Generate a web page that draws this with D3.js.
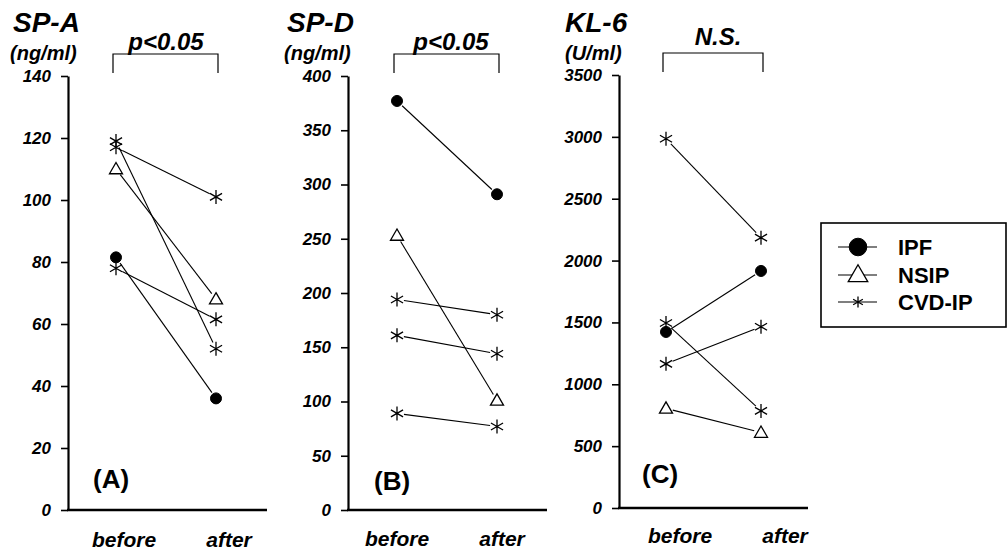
<!DOCTYPE html>
<html>
<head>
<meta charset="utf-8">
<script src="https://cdn.jsdelivr.net/npm/d3@7"></script>
<style>
  html, body { margin: 0; padding: 0; background: #fff; }
  svg { display: block; font-family: "Liberation Sans", Arial, sans-serif; }
</style>
</head>
<body>
<svg id="chart" width="1007" height="552"></svg>
<script>
// ---- data ----
const timepoints = ["before", "after"];
const groups = ["IPF", "NSIP", "CVD-IP"];

// SP-A (ng/ml), one entry per patient
const spaGroup  = ["IPF", "NSIP", "CVD-IP", "CVD-IP", "CVD-IP"];
const spaBefore = [81.5, 110, 119, 117, 78];
const spaAfter  = [36, 68, 52, 101, 61.5];
const spaTicks  = [0, 20, 40, 60, 80, 100, 120, 140];

// SP-D (ng/ml)
const spdGroup  = ["IPF", "NSIP", "CVD-IP", "CVD-IP", "CVD-IP"];
const spdBefore = [377, 253, 194, 161, 89];
const spdAfter  = [291, 101, 180, 144, 77];
const spdTicks  = [0, 50, 100, 150, 200, 250, 300, 350, 400];

// KL-6 (U/ml)
const klGroup  = ["IPF", "NSIP", "CVD-IP", "CVD-IP", "CVD-IP"];
const klBefore = [1423, 805, 2985, 1495, 1165];
const klAfter  = [1916, 610, 2185, 785, 1465];
const klTicks  = [0, 500, 1000, 1500, 2000, 2500, 3000, 3500];

const panelTitles = ["SP-A", "SP-D", "KL-6"];
const panelUnits  = ["(ng/ml)", "(ng/ml)", "(U/ml)"];
const panelTags   = ["(A)", "(B)", "(C)"];
const panelStats  = ["p<0.05", "p<0.05", "N.S."];

// ---- layout ----
const panels = [
  { group: spaGroup, before: spaBefore, after: spaAfter, ticks: spaTicks,
    axisX: 68, y0: 510, yTop: 76, xB: 116, xA: 216, xEnd: 267,
    lblB: 124, lblA: 229, lblY: 547, titleX: 13, unitX: 10,
    statX: 166, statY: 50, bracketY: 54, tagX: 93, tagY: 488 },
  { group: spdGroup, before: spdBefore, after: spdAfter, ticks: spdTicks,
    axisX: 348, y0: 510, yTop: 76, xB: 397, xA: 497, xEnd: 547,
    lblB: 397, lblA: 502, lblY: 546, titleX: 287, unitX: 284,
    statX: 451, statY: 50, bracketY: 54, tagX: 374, tagY: 490 },
  { group: klGroup, before: klBefore, after: klAfter, ticks: klTicks,
    axisX: 619, y0: 508, yTop: 75, xB: 666, xA: 761, xEnd: 808,
    lblB: 680, lblA: 785, lblY: 543, titleX: 565, unitX: 565,
    statX: 718, statY: 45, bracketY: 53, tagX: 642, tagY: 483 }
];

const FONT = '"Liberation Sans", Arial, sans-serif';
const svg = d3.select("#chart");

// marker shapes
function starPath(r) {
  let d = "";
  for (let k = 0; k < 3; k++) {
    const a = Math.PI / 2 + k * Math.PI / 3;
    const dx = r * Math.cos(a), dy = r * Math.sin(a);
    d += `M${-dx},${-dy}L${dx},${dy}`;
  }
  return d;
}
function trianglePath(s) {
  const h = s * Math.sqrt(3) / 2;
  return `M0,${-h * 2 / 3}L${s / 2},${h / 3}L${-s / 2},${h / 3}Z`;
}
function drawMarker(g, type, x, y, scale) {
  if (type === "IPF") {
    g.append("circle").attr("cx", x).attr("cy", y).attr("r", 5.5 * scale)
      .attr("fill", "#000").attr("stroke", "#000");
  } else if (type === "NSIP") {
    g.append("path").attr("d", trianglePath(13 * scale))
      .attr("transform", `translate(${x},${y + 1})`)
      .attr("fill", "#fff").attr("stroke", "#000").attr("stroke-width", 1.3);
  } else {
    g.append("path").attr("d", starPath(7 * scale))
      .attr("transform", `translate(${x},${y})`)
      .attr("fill", "none").attr("stroke", "#000").attr("stroke-width", 1.3);
  }
}

panels.forEach((p, i) => {
  const g = svg.append("g");
  const maxTick = p.ticks[p.ticks.length - 1];
  const y = d3.scaleLinear().domain([0, maxTick]).range([p.y0, p.yTop]);
  const x = d3.scalePoint().domain(timepoints).range([p.xB, p.xA]);

  // y axis
  const ax = g.append("g").attr("transform", `translate(${p.axisX},0)`)
    .call(d3.axisLeft(y).tickValues(p.ticks).tickFormat(d3.format("d"))
      .tickSize(7).tickSizeOuter(0).tickPadding(10));
  ax.attr("font-size", 17).attr("font-family", FONT);
  ax.select(".domain").attr("stroke", "#000").attr("stroke-width", 2.2);
  ax.selectAll(".tick line").attr("stroke", "#000").attr("stroke-width", 1.6);
  ax.selectAll(".tick text").attr("fill", "#000")
    .attr("font-weight", "bold").attr("font-style", "italic");

  // x axis baseline
  g.append("line").attr("x1", p.axisX - 1).attr("x2", p.xEnd)
    .attr("y1", y(0)).attr("y2", y(0)).attr("stroke", "#000").attr("stroke-width", 2.4);

  // category labels
  timepoints.forEach((t, j) => {
    g.append("text").attr("x", j === 0 ? p.lblB : p.lblA).attr("y", p.lblY)
      .attr("text-anchor", "middle")
      .style("font-size", "21px").style("font-weight", "bold").style("font-style", "italic")
      .text(t);
  });

  // titles
  g.append("text").attr("x", p.titleX).attr("y", 32)
    .style("font-size", "28px").style("font-weight", "bold").style("font-style", "italic")
    .text(panelTitles[i]);
  g.append("text").attr("x", p.unitX).attr("y", 60)
    .style("font-size", "20px").style("font-weight", "bold").style("font-style", "italic")
    .text(panelUnits[i]);

  // significance bracket
  g.append("path")
    .attr("d", `M${p.xB - 3},${p.bracketY + 19}V${p.bracketY}H${p.xA + 2}V${p.bracketY + 19}`)
    .attr("fill", "none").attr("stroke", "#000").attr("stroke-width", 1.2);
  g.append("text").attr("x", p.statX).attr("y", p.statY).attr("text-anchor", "middle")
    .style("font-size", "24px").style("font-weight", "bold").style("font-style", "italic")
    .text(panelStats[i]);

  // panel tag
  g.append("text").attr("x", p.tagX).attr("y", p.tagY)
    .style("font-size", "26px").style("font-weight", "bold")
    .text(panelTags[i]);

  // connecting lines, trimmed short of the markers
  const gap = 7;
  p.before.forEach((b, k) => {
    const x1 = x("before"), y1 = y(b), x2 = x("after"), y2 = y(p.after[k]);
    const len = Math.hypot(x2 - x1, y2 - y1);
    const ux = (x2 - x1) / len, uy = (y2 - y1) / len;
    g.append("line")
      .attr("x1", x1 + ux * gap).attr("y1", y1 + uy * gap)
      .attr("x2", x2 - ux * gap).attr("y2", y2 - uy * gap)
      .attr("stroke", "#000").attr("stroke-width", 1.1);
  });
  // markers
  p.before.forEach((b, k) => {
    drawMarker(g, p.group[k], x("before"), y(b), 1);
    drawMarker(g, p.group[k], x("after"), y(p.after[k]), 1);
  });
});

// legend
const lg = svg.append("g");
lg.append("rect").attr("x", 821).attr("y", 223).attr("width", 185).attr("height", 104)
  .attr("fill", "#fff").attr("stroke", "#000").attr("stroke-width", 1.6);
const legendY = [247, 275, 302];
const legendScale = [1.6, 1.5, 0.8];
groups.forEach((grp, k) => {
  lg.append("line").attr("x1", 838).attr("x2", 877)
    .attr("y1", legendY[k]).attr("y2", legendY[k])
    .attr("stroke", "#000").attr("stroke-width", 1.1);
  drawMarker(lg, grp, 858, legendY[k], legendScale[k]);
  lg.append("text").attr("x", 898).attr("y", legendY[k] + 8)
    .style("font-size", "22px").style("font-weight", "bold")
    .text(grp);
});
</script>
</body>
</html>
